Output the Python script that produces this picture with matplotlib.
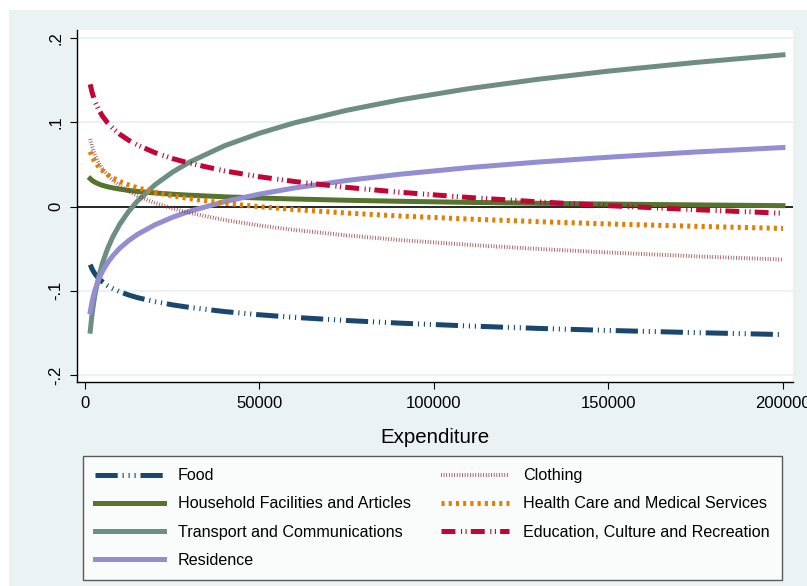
import numpy as np
import matplotlib
matplotlib.use('Agg')
import matplotlib.pyplot as plt
from matplotlib.patches import Rectangle

plt.rcParams['font.family'] = ['Liberation Sans', 'DejaVu Sans']
plt.rcParams['lines.scale_dashes'] = False

expenditure = [1500, 2000, 2500, 3000, 4000, 5000, 6500, 8000, 10000, 12500,
               15000, 20000, 25000, 30000, 40000, 50000, 60000, 75000, 90000,
               110000, 130000, 150000, 175000, 200000]

food = [-0.0690, -0.0739, -0.0777, -0.0808, -0.0856, -0.0894, -0.0939, -0.0974,
        -0.1012, -0.1050, -0.1081, -0.1129, -0.1167, -0.1198, -0.1247, -0.1285,
        -0.1316, -0.1353, -0.1384, -0.1418, -0.1447, -0.1471, -0.1497, -0.1520]
household = [0.0330, 0.0311, 0.0297, 0.0285, 0.0266, 0.0251, 0.0234, 0.0221,
             0.0206, 0.0191, 0.0179, 0.0161, 0.0146, 0.0134, 0.0115, 0.0101,
             0.0089, 0.0074, 0.0062, 0.0049, 0.0038, 0.0029, 0.0019, 0.0010]
transport = [-0.1480, -0.1287, -0.1138, -0.1015, -0.0823, -0.0673, -0.0497, -0.0358,
             -0.0208, -0.0059, 0.0063, 0.0256, 0.0406, 0.0528, 0.0721, 0.0870,
             0.0993, 0.1142, 0.1264, 0.1399, 0.1511, 0.1607, 0.1710, 0.1800]
residence = [-0.1250, -0.1135, -0.1046, -0.0974, -0.0859, -0.0770, -0.0666, -0.0583,
             -0.0494, -0.0405, -0.0332, -0.0218, -0.0129, -0.0056, 0.0058, 0.0147,
             0.0220, 0.0309, 0.0382, 0.0462, 0.0528, 0.0585, 0.0647, 0.0700]
clothing = [0.0800, 0.0716, 0.0651, 0.0597, 0.0513, 0.0448, 0.0371, 0.0311,
            0.0245, 0.0180, 0.0127, 0.0043, -0.0022, -0.0076, -0.0160, -0.0225,
            -0.0278, -0.0343, -0.0397, -0.0455, -0.0504, -0.0546, -0.0591, -0.0630]
health = [0.0650, 0.0596, 0.0555, 0.0521, 0.0468, 0.0426, 0.0377, 0.0339,
          0.0297, 0.0256, 0.0222, 0.0168, 0.0127, 0.0093, 0.0039, -0.0002,
          -0.0036, -0.0078, -0.0112, -0.0149, -0.0180, -0.0207, -0.0235, -0.0260]
education = [0.1450, 0.1360, 0.1290, 0.1233, 0.1143, 0.1074, 0.0992, 0.0927,
             0.0857, 0.0787, 0.0730, 0.0640, 0.0570, 0.0513, 0.0423, 0.0353,
             0.0297, 0.0227, 0.0170, 0.0107, 0.0055, 0.0010, -0.0038, -0.0080]

x_ticks = [0, 50000, 100000, 150000, 200000]
y_ticks = [-0.2, -0.1, 0, 0.1, 0.2]
y_labels = ['-.2', '-.1', '0', '.1', '.2']

bg = '#eaf2f3'

fig = plt.figure(figsize=(8.07, 5.86), dpi=100)
fig.patch.set_facecolor('white')
fig.patches.append(Rectangle((9 / 807, 0), 1, 1 - 10 / 586, transform=fig.transFigure,
                             facecolor=bg, edgecolor='none', zorder=-10))

ax = fig.add_axes([77 / 807, 1 - 382 / 586, 716 / 807, 352 / 586])
ax.set_facecolor('white')

lw = 3.6
ax.plot(expenditure, food, color='#1a476f', lw=lw, dash_capstyle='butt',
        dashes=(16, 3.5, 0.8, 3.5, 0.8, 3.5, 0.8, 3.5), label='Food')
ax.plot(expenditure, household, color='#55752f', lw=lw, label='Household Facilities and Articles')
ax.plot(expenditure, transport, color='#6e8e84', lw=lw, label='Transport and Communications')
ax.plot(expenditure, residence, color='#938dd2', lw=lw, label='Residence')
ax.plot(expenditure, clothing, color='#90353b', lw=2.8, alpha=0.85, dash_capstyle='butt',
        dashes=(0.6, 1.3), label='Clothing')
ax.plot(expenditure, health, color='#e37e00', lw=lw, dash_capstyle='butt',
        dashes=(2.2, 3.0), label='Health Care and Medical Services')
ax.plot(expenditure, education, color='#c10534', lw=lw, dash_capstyle='butt',
        dashes=(10, 4, 0.8, 2.5, 0.8, 3), label='Education, Culture and Recreation')

ax.axhline(0, color='black', lw=1.2, zorder=1.5)
for yv in [-0.2, -0.1, 0.1, 0.2]:
    ax.axhline(yv, color=bg, lw=1.5, zorder=0.5)

ax.set_xlim(-2290, 202870)
ax.set_ylim(-0.2083, 0.2095)
ax.set_xticks(x_ticks)
ax.set_xticklabels([str(t) for t in x_ticks])
ax.set_yticks(y_ticks)
ax.set_yticklabels(y_labels, rotation=90, va='center')
ax.tick_params(axis='both', labelsize=12, length=5, width=0.8, pad=5)
ax.set_xlabel('Expenditure', fontsize=14.8, labelpad=12)

for s in ['top', 'right']:
    ax.spines[s].set_visible(False)
for s in ['left', 'bottom']:
    ax.spines[s].set_linewidth(1.0)

leg = fig.legend(loc='lower left', bbox_to_anchor=(83 / 807, 6 / 586, 699 / 807, 0.2),
                 mode='expand', ncol=2, fontsize=11.6, frameon=True, fancybox=False,
                 borderaxespad=0, handlelength=4.25, handletextpad=0.87,
                 labelspacing=0.82, borderpad=0.75, columnspacing=1.0)
leg.get_frame().set_edgecolor('#333333')
leg.get_frame().set_linewidth(1.0)

fig.savefig('out.png', dpi=100, facecolor=fig.get_facecolor())
